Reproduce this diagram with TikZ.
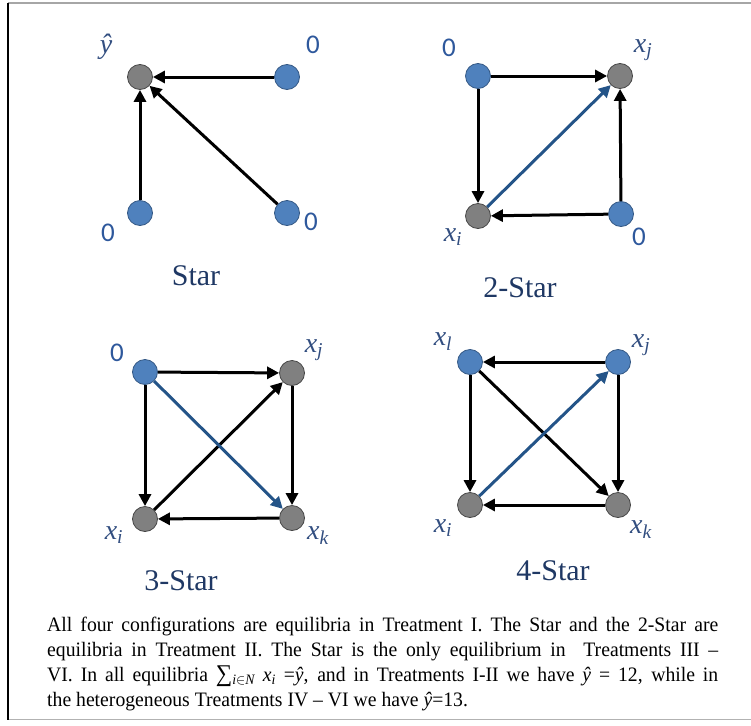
\documentclass[tikz,border=0pt]{standalone}
\usepackage{amsmath}
\usepackage{fontspec}
\setmainfont{Liberation Serif}
\newfontfamily\labsans{Carlito}
\usetikzlibrary{arrows.meta}
\definecolor{nodeblue}{RGB}{79,129,189}
\definecolor{nodeblueb}{RGB}{52,88,132}
\definecolor{nodegray}{RGB}{128,128,128}
\definecolor{nodegrayb}{RGB}{70,70,70}
\definecolor{arrowblue}{RGB}{36,84,136}
\definecolor{zerocol}{RGB}{46,88,156}
\definecolor{xcol}{RGB}{50,78,128}
\definecolor{titlecol}{RGB}{31,56,100}
\newcommand\xv[1]{{\itshape x}\textsubscript{\itshape #1}}
\newcommand\pline[1]{\scalebox{0.96}[1]{\makebox[699pt][s]{#1}}}
\begin{document}
\begin{tikzpicture}[x=1pt,y=-1pt,
  bnode/.style={circle,fill=nodeblue,draw=nodeblueb,line width=0.8pt,minimum size=25pt,inner sep=0pt},
  gnode/.style={circle,fill=nodegray,draw=nodegrayb,line width=0.8pt,minimum size=25pt,inner sep=0pt},
  arr/.style={line width=3pt,-{Triangle[length=12pt,width=12pt]}},
  barr/.style={arr,arrowblue},
  zlab/.style={font=\labsans\fontsize{27}{30}\selectfont,text=zerocol,inner sep=0pt},
  xlab/.style={font=\fontsize{28}{30}\selectfont,text=xcol,inner sep=0pt},
  ttl/.style={font=\fontsize{30}{34}\selectfont,text=titlecol,inner sep=0pt},
  para/.style={font=\fontsize{20.5}{25}\selectfont,anchor=base west,inner sep=0pt}]
\useasboundingbox (0,0) rectangle (751,725);
\draw[gray!70,line width=1.5pt] (8,3) -- (751,3);
\draw[gray!60,line width=1.2pt] (8,719.5) -- (751,719.5);
\draw[black,line width=2pt] (8,3) -- (8,720);
% Star
\node[gnode] (a1) at (140,77) {};
\node[bnode] (a2) at (287,77) {};
\node[bnode] (a3) at (140,213) {};
\node[bnode] (a4) at (287,213) {};
\draw[arr] (a2) -- (a1);
\draw[arr] (a3) -- (a1);
\draw[arr] (a4) -- (a1);
\node[xlab] (la1) at (106,47) {\itshape ŷ};
\node[zlab] (la2) at (313,45) {0};
\node[zlab] (la3) at (108,233) {0};
\node[zlab] (la4) at (311,222) {0};
\node[ttl] (ta) at (196,276) {Star};
% 2-Star
\node[bnode] (b1) at (478,76) {};
\node[gnode] (b2) at (620,76) {};
\node[gnode] (b3) at (478,216) {};
\node[bnode] (b4) at (621,214) {};
\draw[arr] (b1) -- (b2);
\draw[arr] (b1) -- (b3);
\draw[arr] (b4) -- (b3);
\draw[arr] (b4) -- (b2);
\draw[barr] (b3) -- (b2);
\node[zlab] (lb1) at (449,48) {0};
\node[xlab] (lb2) at (643,50) {\xv{j}};
\node[xlab] (lb3) at (453,237) {\xv{i}};
\node[zlab] (lb4) at (639,237) {0};
\node[ttl] (tb) at (520,288) {2-Star};
% 3-Star
\node[bnode] (c1) at (145,372) {};
\node[gnode] (c2) at (292,373) {};
\node[gnode] (c3) at (145,519) {};
\node[gnode] (c4) at (292,518) {};
\draw[arr] (c1) -- (c2);
\draw[arr] (c1) -- (c3);
\draw[arr] (c2) -- (c4);
\draw[arr] (c4) -- (c3);
\draw[arr] (c3) -- (c2);
\draw[barr] (c1) -- (c4);
\node[zlab] (lc1) at (117,353) {0};
\node[xlab] (lc2) at (314,350) {\xv{j}};
\node[xlab] (lc3) at (114,535) {\xv{i}};
\node[xlab] (lc4) at (318,536) {\xv{k}};
\node[ttl] (tc) at (181,581) {3-Star};
% 4-Star
\node[bnode] (d1) at (470,362) {};
\node[bnode] (d2) at (618,362) {};
\node[gnode] (d3) at (470,505) {};
\node[gnode] (d4) at (618,505) {};
\draw[arr] (d2) -- (d1);
\draw[arr] (d1) -- (d3);
\draw[arr] (d1) -- (d4);
\draw[arr] (d2) -- (d4);
\draw[arr] (d4) -- (d3);
\draw[barr] (d3) -- (d2);
\node[xlab] (ld1) at (443,342) {\xv{l}};
\node[xlab] (ld2) at (641,345) {\xv{j}};
\node[xlab] (ld3) at (443,528) {\xv{i}};
\node[xlab] (ld4) at (641,530) {\xv{k}};
\node[ttl] (td) at (553,571) {4-Star};
% text
\node[para] (p1) at (47,631) {\pline{All four configurations are equilibria in Treatment I. The Star and the 2-Star are}};
\node[para] (p2) at (47,656) {\pline{equilibria in Treatment II. The Star is the only equilibrium in\ \ Treatments III –}};
\node[para] (p3) at (47,681) {\pline{VI. In all equilibria {\fontsize{24}{25}\selectfont ∑}\textsubscript{\itshape i$\in$N} \xv{i} =\itshape ŷ\upshape, and in Treatments I-II we have \itshape ŷ \upshape = 12, while in}};
\node[para] (p4) at (47,706) {\scalebox{0.96}[1]{the heterogeneous Treatments IV – VI we have {\itshape ŷ}=13.}};
\end{tikzpicture}
\end{document}
